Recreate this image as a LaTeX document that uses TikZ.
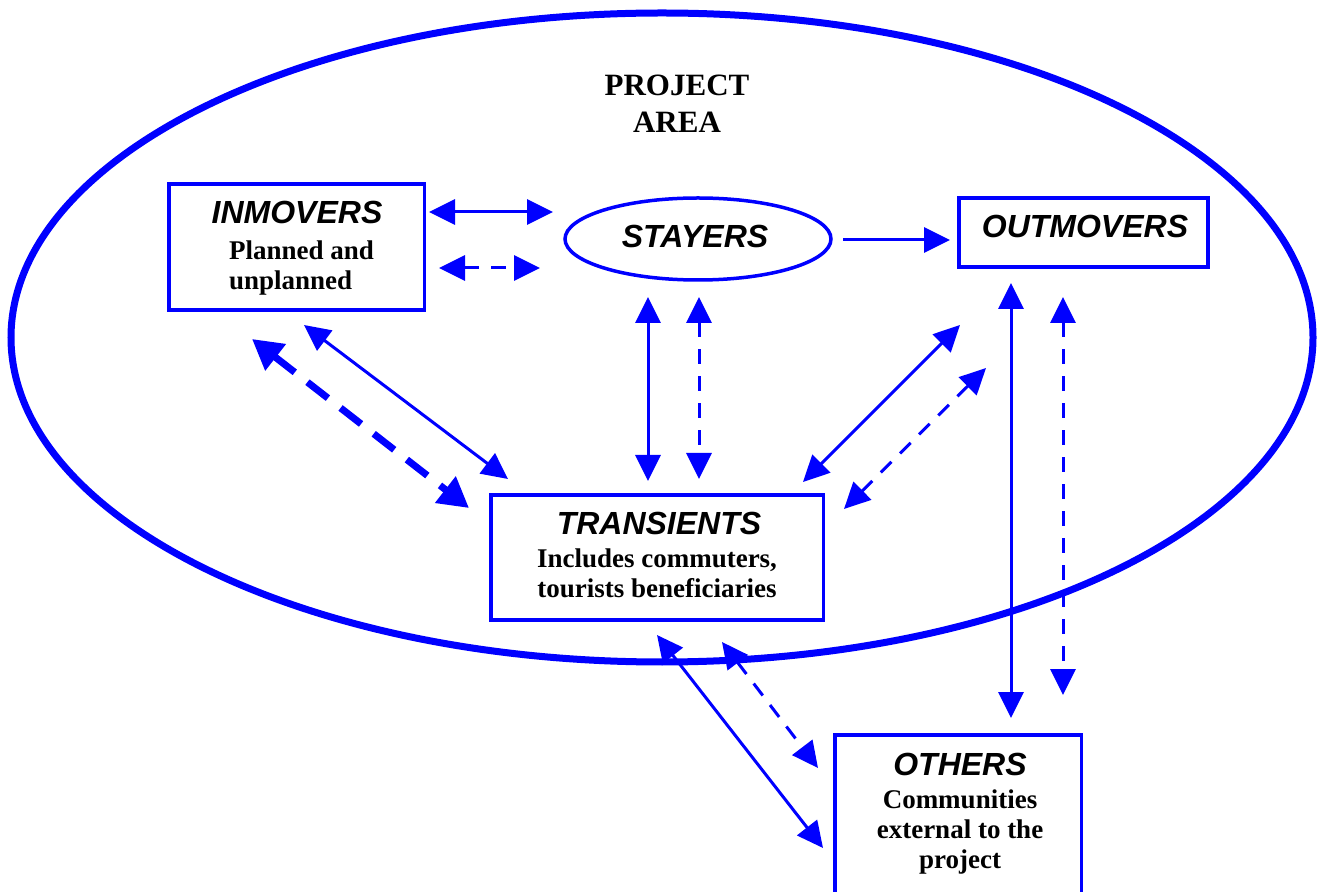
\documentclass[tikz,border=0pt]{standalone}
\usepackage{fontspec}
\setmainfont{Liberation Serif}
\newfontfamily\headfont{Liberation Sans}
\usetikzlibrary{arrows.meta,shapes.geometric}
\definecolor{flowblue}{RGB}{0,0,255}

\begin{document}
\begin{tikzpicture}[x=0.5pt,y=-0.5pt,
  every node/.style={inner sep=0pt,outer sep=0pt},
  area/.style={draw=flowblue,line width=3.5pt,ellipse},
  groupbox/.style={draw=flowblue,line width=1.75pt,rectangle},
  groupoval/.style={draw=flowblue,line width=1.75pt,ellipse},
  title/.style={font=\bfseries\fontsize{15.5}{18}\selectfont,anchor=base},
  head/.style={font=\headfont\bfseries\itshape\fontsize{16}{19}\selectfont,anchor=base},
  sub/.style={font=\bfseries\fontsize{13.5}{16}\selectfont,anchor=base},
  flow/.style={draw=flowblue,line width=1.5pt,>={Triangle[length=13pt,width=12.5pt]}},
  flowdash/.style={flow,dash pattern=on 7.5pt off 6pt},
  flowheavy/.style={draw=flowblue,line width=3.5pt,dash pattern=on 13pt off 8pt,
    >={Triangle[length=15pt,width=16pt]}}
]
\useasboundingbox (0,0) rectangle (1317,892);

% project area
\node[area,minimum width=651pt,minimum height=324.5pt] (area) at (662,337.5) {};
\node[title] (projA) at (677,96) {PROJECT};
\node[title] (projB) at (677,133) {AREA};

% groups
\node[groupbox,minimum width=127.75pt,minimum height=63pt] (inm) at (296.75,247) {};
\node[groupoval,minimum width=133pt,minimum height=41pt] (sty) at (698,239) {};
\node[groupbox,minimum width=124.5pt,minimum height=34.5pt] (outm) at (1083.5,232.5) {};
\node[groupbox,minimum width=166.25pt,minimum height=62.5pt] (trn) at (657.25,557.5) {};
\node[groupbox,minimum width=123.25pt,minimum height=97.5pt] (oth) at (958.25,832.5) {};

% labels
\node[head] (inmT) at (297,224) {INMOVERS};
\node[sub,anchor=base west] (inmA) at (229,260) {Planned and};
\node[sub,anchor=base west] (inmB) at (229,290) {unplanned};
\node[head] (styT) at (695,248) {STAYERS};
\node[head] (outT) at (1085,238) {OUTMOVERS};
\node[head] (trnT) at (659,535) {TRANSIENTS};
\node[sub] (trnA) at (657,568) {Includes commuters,};
\node[sub] (trnB) at (657,598) {tourists beneficiaries};
\node[head] (othT) at (960,775) {OTHERS};
\node[sub] (othA) at (960,808) {Communities};
\node[sub] (othB) at (960,838) {external to the};
\node[sub] (othC) at (960,868) {project};

% connector end points
\coordinate (p1a) at (429,212);  \coordinate (p1b) at (553,212);
\coordinate (p2a) at (439,268);  \coordinate (p2b) at (540,268);
\coordinate (p3a) at (843,240);  \coordinate (p3b) at (950,240);
\coordinate (p4a) at (648,297);  \coordinate (p4b) at (648,481);
\coordinate (p5a) at (699,297);  \coordinate (p5b) at (699,479);
\coordinate (p6a) at (304,325);  \coordinate (p6b) at (508,479);
\coordinate (p7a) at (252,339);  \coordinate (p7b) at (469,508);
\coordinate (p8a) at (960,325);  \coordinate (p8b) at (803,482);
\coordinate (p9a) at (986,368);  \coordinate (p9b) at (844,509);
\coordinate (p10a) at (1011,283); \coordinate (p10b) at (1011,718);
\coordinate (p11a) at (1063,297); \coordinate (p11b) at (1063,695);
\coordinate (p12a) at (657,635);  \coordinate (p12b) at (823,848);
\coordinate (p13a) at (722,642);  \coordinate (p13b) at (818,768);

% movements
\draw[flow,<->] (p1a) -- (p1b);
\draw[flowdash,<->] (p2a) -- (p2b);
\draw[flow,->] (p3a) -- (p3b);
\draw[flow,<->] (p4a) -- (p4b);
\draw[flowdash,<->] (p5a) -- (p5b);
\draw[flow,<->] (p6a) -- (p6b);
\draw[flowheavy,<->] (p7a) -- (p7b);
\draw[flow,<->] (p8a) -- (p8b);
\draw[flowdash,<->] (p9a) -- (p9b);
\draw[flow,<->] (p10a) -- (p10b);
\draw[flowdash,<->] (p11a) -- (p11b);
\draw[flow,<->] (p12a) -- (p12b);
\draw[flowdash,<->] (p13a) -- (p13b);
\end{tikzpicture}
\end{document}
